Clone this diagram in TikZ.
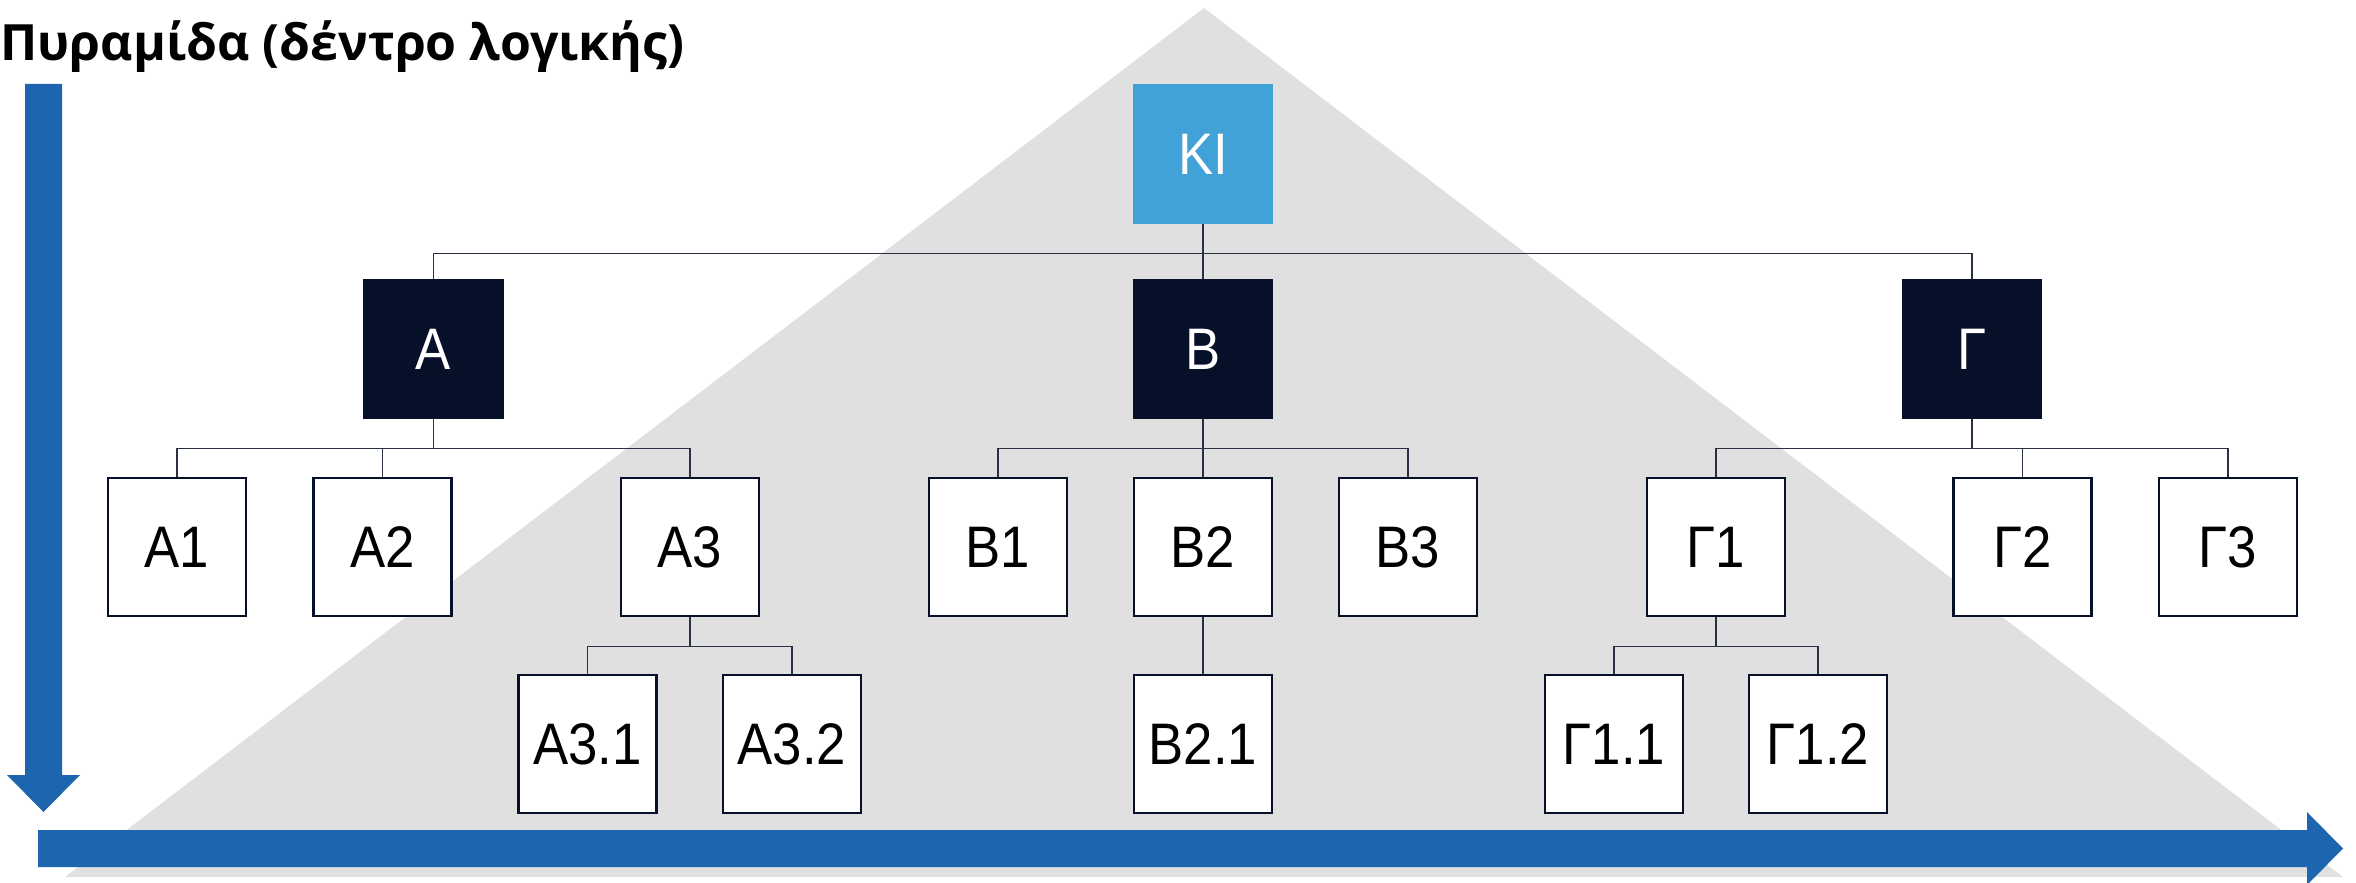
\documentclass[tikz,border=0pt]{standalone}
\usepackage{fontspec}
\setmainfont{Liberation Sans}
\newfontfamily\boxfont[FakeStretch=0.9]{Liberation Sans}
\newfontfamily\titlefont{Open Sans}
\definecolor{arrowblue}{RGB}{29,101,175}
\definecolor{kiblue}{RGB}{64,162,214}
\definecolor{navy}{RGB}{6,16,41}
\definecolor{pyrgray}{RGB}{224,224,224}
\definecolor{linecol}{RGB}{40,48,66}
\begin{document}
\begin{tikzpicture}[x=0.5pt,y=-0.5pt,
  box/.style={draw=navy,line width=1.4pt,fill=white,minimum width=69pt,minimum height=69pt,inner sep=0pt,font=\boxfont\fontsize{29.3}{32}\selectfont,text=black},
  darkbox/.style={box,fill=navy,draw=navy,text=white},
  kibox/.style={box,fill=kiblue,draw=kiblue,text=white},
  conn/.style={draw=linecol,line width=0.8pt}]
\useasboundingbox (0,0) rectangle (2356,883);
% pyramid
\fill[pyrgray] (1204,8) -- (2343,877) -- (65,877) -- cycle;
% title
\node[anchor=base west,inner sep=0pt,font=\titlefont\bfseries\fontsize{25}{30}\selectfont] (title) at (0,61) {Πυραμίδα (δέντρο λογικής)};
% arrows
\fill[arrowblue] (25,84) -- (62,84) -- (62,775) -- (80,775) -- (43.5,812) -- (7,775) -- (25,775) -- cycle;
\fill[arrowblue] (38,830) -- (2307,830) -- (2307,812) -- (2343,848.5) -- (2307,885) -- (2307,867) -- (38,867) -- cycle;
% nodes
\node[kibox] (KI) at (1203,154) {ΚΙ};
\node[darkbox] (A) at (433.5,349) {Α};
\node[darkbox] (B) at (1203,349) {Β};
\node[darkbox] (G) at (1972,349) {Γ};
\node[box] (A1) at (177,547) {Α1};
\node[box] (A2) at (382.5,547) {Α2};
\node[box] (A3) at (690,547) {Α3};
\node[box] (B1) at (998,547) {Β1};
\node[box] (B2) at (1203,547) {Β2};
\node[box] (B3) at (1408,547) {Β3};
\node[box] (G1) at (1716,547) {Γ1};
\node[box] (G2) at (2022.5,547) {Γ2};
\node[box] (G3) at (2228,547) {Γ3};
\node[box] (A31) at (587.5,744) {Α3.1};
\node[box] (A32) at (792,744) {Α3.2};
\node[box] (B21) at (1203,744) {Β2.1};
\node[box] (G11) at (1614,744) {Γ1.1};
\node[box] (G12) at (1818,744) {Γ1.2};
% connectors
\foreach \p/\c in {KI/A,KI/B,KI/G,A/A1,A/A2,A/A3,B/B1,B/B2,B/B3,G/G1,G/G2,G/G3,A3/A31,A3/A32,B2/B21,G1/G11,G1/G12}
  \draw[conn] (\p.south) -- ++(0,29) -| (\c.north);
\end{tikzpicture}
\end{document}
